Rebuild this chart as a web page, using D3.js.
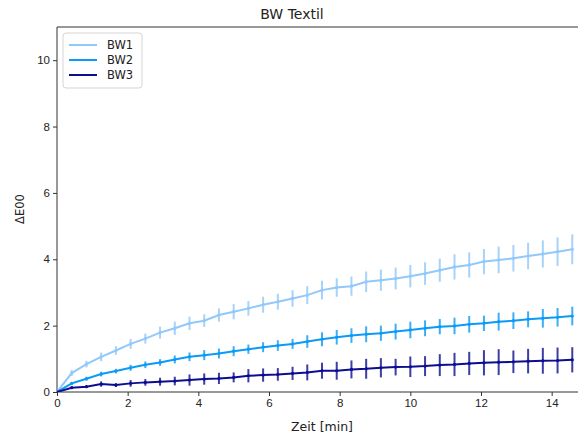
<!DOCTYPE html>
<html>
<head>
<meta charset="utf-8">
<script src="https://cdn.jsdelivr.net/npm/d3@7"></script>
<style>
  body { margin: 0; background: #fff; }
  svg { font-family: "DejaVu Sans", sans-serif; }
</style>
</head>
<body>
<div id="chart"></div>
<script>
/* BW Textil - Farbabstand über Zeit mit Fehlerbalken */

// Messzeitpunkte (Index), Zeit = index * 25 s
const steps = d3.range(36);
const stepMinutes = 25 / 60;

const bw1 = [0, 0.57, 0.84, 1.06, 1.25, 1.45, 1.61, 1.79, 1.92, 2.07, 2.15, 2.32, 2.42, 2.52, 2.63, 2.72, 2.82, 2.92,
             3.07, 3.15, 3.19, 3.32, 3.37, 3.42, 3.49, 3.57, 3.67, 3.77, 3.83, 3.93, 3.98, 4.03, 4.10, 4.16, 4.23, 4.30];
const bw1Err = [0, 0.09, 0.10, 0.13, 0.13, 0.15, 0.15, 0.18, 0.20, 0.20, 0.19, 0.20, 0.23, 0.22, 0.24, 0.24, 0.25, 0.27,
                0.28, 0.28, 0.29, 0.31, 0.32, 0.33, 0.34, 0.34, 0.35, 0.38, 0.38, 0.38, 0.40, 0.40, 0.40, 0.41, 0.43, 0.45];

const bw2 = [0, 0.26, 0.40, 0.54, 0.63, 0.73, 0.82, 0.89, 0.98, 1.06, 1.11, 1.16, 1.23, 1.29, 1.35, 1.40, 1.45, 1.52,
             1.59, 1.65, 1.70, 1.74, 1.77, 1.82, 1.87, 1.92, 1.97, 1.99, 2.04, 2.07, 2.12, 2.15, 2.19, 2.22, 2.25, 2.29];
const bw2Err = [0, 0.04, 0.06, 0.07, 0.07, 0.09, 0.10, 0.10, 0.12, 0.13, 0.15, 0.15, 0.15, 0.14, 0.15, 0.16, 0.15, 0.19,
                0.21, 0.22, 0.22, 0.24, 0.23, 0.24, 0.25, 0.24, 0.23, 0.25, 0.25, 0.23, 0.27, 0.25, 0.24, 0.28, 0.28, 0.28];

const bw3 = [0, 0.13, 0.16, 0.24, 0.21, 0.26, 0.29, 0.31, 0.33, 0.36, 0.39, 0.41, 0.44, 0.49, 0.51, 0.53, 0.56, 0.59,
             0.64, 0.64, 0.68, 0.70, 0.73, 0.75, 0.76, 0.78, 0.81, 0.83, 0.86, 0.88, 0.90, 0.91, 0.93, 0.94, 0.95, 0.97];
const bw3Err = [0, 0.03, 0.04, 0.08, 0.06, 0.10, 0.10, 0.12, 0.13, 0.17, 0.17, 0.17, 0.15, 0.20, 0.20, 0.19, 0.20, 0.24,
                0.24, 0.27, 0.27, 0.30, 0.29, 0.25, 0.31, 0.30, 0.33, 0.35, 0.35, 0.38, 0.39, 0.34, 0.37, 0.39, 0.39, 0.38];

const seriesNames = ["BW1", "BW2", "BW3"];
const colors = ["#92c8fa", "#0b9bf6", "#0d0d91"];

const xTicks = [0, 2, 4, 6, 8, 10, 12, 14];
const yTicks = [0, 2, 4, 6, 8, 10];

const width = 578, height = 435;
const margin = {top: 27, right: -9, bottom: 43, left: 57};

const series = [bw1, bw2, bw3].map((vals, i) => ({
    name: seriesNames[i],
    color: colors[i],
    points: steps.map(k => ({x: k * stepMinutes, y: vals[k], e: [bw1Err, bw2Err, bw3Err][i][k]}))
}));

const svg = d3.select("#chart")
    .append("svg")
    .attr("width", width)
    .attr("height", height);

const x = d3.scaleLinear()
    .domain([0, 15])
    .range([margin.left, width - margin.right]);

const y = d3.scaleLinear()
    .domain([0, 11])
    .range([height - margin.bottom, margin.top]);

svg.append("defs").append("clipPath")
    .attr("id", "plot")
    .append("rect")
    .attr("x", margin.left)
    .attr("y", margin.top)
    .attr("width", width - margin.right - margin.left)
    .attr("height", height - margin.bottom - margin.top);

// Achsen
const xAxis = g => g
    .attr("transform", `translate(0, ${height - margin.bottom})`)
    .call(d3.axisBottom(x).tickValues(xTicks).tickSize(4).tickPadding(3).tickFormat(d3.format("d")));

const yAxis = g => g
    .attr("transform", `translate(${margin.left}, 0)`)
    .call(d3.axisLeft(y).tickValues(yTicks).tickSize(4).tickPadding(3).tickFormat(d3.format("d")));

svg.append("g").call(xAxis);
svg.append("g").call(yAxis);

svg.selectAll(".tick text")
    .attr("font-size", 11.5)
    .attr("fill", "#222");
svg.selectAll(".tick line").attr("stroke", "#333");
svg.selectAll(".domain").attr("stroke", "none");

// Rahmen (links, oben)
svg.append("path")
    .attr("d", `M${width},${margin.top}H${margin.left}V${height - margin.bottom}H${width}`)
    .attr("fill", "none")
    .attr("stroke", "#333")
    .attr("stroke-width", 1);

// Linien + Fehlerbalken
const plot = svg.append("g").attr("clip-path", "url(#plot)");

const line = d3.line()
    .x(d => x(d.x))
    .y(d => y(d.y));

let grp = plot.selectAll(".series")
    .data(series)
    .join("g")
    .attr("class", "series");

grp.selectAll(".err")
    .data(d => d.points.map(p => ({...p, color: d.color})))
    .join("line")
    .attr("class", "err")
    .attr("x1", d => x(d.x))
    .attr("x2", d => x(d.x))
    .attr("y1", d => y(d.y - d.e))
    .attr("y2", d => y(d.y + d.e))
    .attr("stroke", d => d.color)
    .attr("stroke-width", 2)
    .attr("opacity", 0.8);

grp.append("path")
    .attr("d", d => line(d.points))
    .attr("fill", "none")
    .attr("stroke", d => d.color)
    .attr("stroke-width", 2);

grp.selectAll(".dot")
    .data(d => d.points.map(p => ({...p, color: d.color})))
    .join("circle")
    .attr("class", "dot")
    .attr("cx", d => x(d.x))
    .attr("cy", d => y(d.y))
    .attr("r", 1.6)
    .attr("fill", d => d.color);

// Legende
const legend = svg.append("g").attr("transform", "translate(63, 33)");

legend.append("rect")
    .attr("width", 79)
    .attr("height", 55)
    .attr("rx", 3)
    .attr("fill", "#fff")
    .attr("stroke", "#d5d5d5");

let item = legend.selectAll(".item")
    .data(series)
    .join("g")
    .attr("class", "item")
    .attr("transform", (d, i) => `translate(0, ${12 + i * 15})`);

item.append("line")
    .attr("x1", 6).attr("x2", 34)
    .attr("stroke", d => d.color)
    .attr("stroke-width", 2);

item.append("text")
    .text(d => d.name)
    .attr("x", 44)
    .attr("dy", "0.35em")
    .attr("font-size", 11.5)
    .attr("fill", "#222");

// Beschriftungen
svg.append("text")
    .text("BW Textil")
    .attr("x", 292)
    .attr("y", 19)
    .attr("text-anchor", "middle")
    .attr("font-size", 14)
    .attr("fill", "#222");

svg.append("text")
    .text("Zeit [min]")
    .attr("x", 322)
    .attr("y", 431)
    .attr("text-anchor", "middle")
    .attr("font-size", 12.5)
    .attr("fill", "#222");

svg.append("text")
    .text("ΔE00")
    .attr("transform", "translate(24, 209) rotate(-90)")
    .attr("text-anchor", "middle")
    .attr("font-size", 11.5)
    .attr("fill", "#222");
</script>
</body>
</html>
